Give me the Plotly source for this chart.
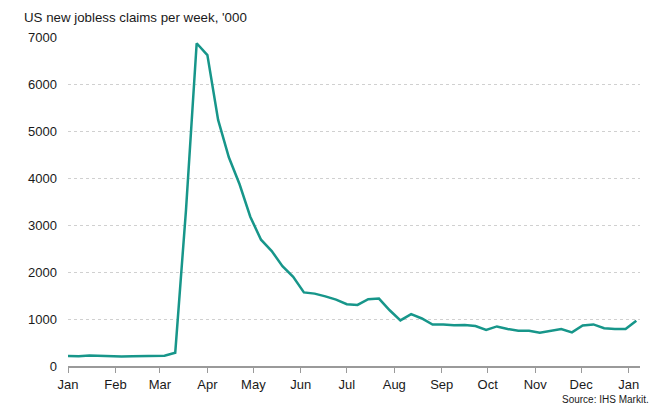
import pandas as pd
import plotly.graph_objects as go

# Weekly US new jobless claims, thousands (54 weeks, Jan 2020 - Jan 2021)
week_start = "2020-01-01"
n_weeks = 54
claims = [212, 207, 223, 217, 202, 204, 206, 211, 220, 217,
          282, 3307, 6867, 6615, 5237, 4442, 3867, 3176, 2687, 2446,
          2123, 1897, 1566, 1540, 1482, 1413, 1314, 1300, 1422, 1435,
          1186, 971, 1104, 1011, 881, 884, 866, 873, 849, 767,
          842, 787, 751, 751, 709, 748, 787, 716, 862, 885,
          803, 787, 787, 965]
y_ticks = [0, 1000, 2000, 3000, 4000, 5000, 6000, 7000]
month_ticks = pd.date_range("2020-01-01", "2021-01-01", freq="MS")
month_labels = [d.strftime("%b") for d in month_ticks]

weeks = pd.date_range(week_start, periods=n_weeks, freq="7D")

fig = go.Figure()
fig.add_trace(go.Scatter(x=weeks, y=claims, mode="lines",
                         line=dict(color="#17968a", width=2.5),
                         hoverinfo="x+y"))

FONT = "Liberation Sans, Arial, sans-serif"
fig.update_layout(
    width=660, height=405,
    margin=dict(l=68, r=20, t=37, b=39),
    paper_bgcolor="white", plot_bgcolor="white",
    showlegend=False,
    font=dict(family=FONT, size=13, color="#1a1a1a"),
    xaxis=dict(
        type="date",
        range=["2020-01-01", "2021-01-08 10:00"],
        tickvals=month_ticks, ticktext=month_labels,
        showgrid=False, zeroline=False,
        showline=True, linecolor="#9a9a9a", linewidth=2,
        ticks="outside", ticklen=5, tickcolor="#9a9a9a", tickwidth=1,
        tickfont=dict(family=FONT, size=13, color="#1a1a1a"),
    ),
    yaxis=dict(
        range=[0, 7000],
        tickvals=y_ticks,
        showgrid=True, gridcolor="#d0d0d0", griddash="3px,3px", gridwidth=1,
        zeroline=False, showline=False, ticks="",
        ticklabelstandoff=10,
        tickfont=dict(family=FONT, size=13, color="#1a1a1a"),
    ),
    annotations=[
        dict(text="US new jobless claims per week, '000", xref="paper", yref="paper",
             x=(22 - 68) / 572, y=1 + 20/329, xanchor="left", yanchor="middle",
             showarrow=False, font=dict(family=FONT, size=13.3, color="#1a1a1a")),
        dict(text="Source: IHS Markit.", xref="paper", yref="paper",
             x=1 + 11/572, y=-33/329, xanchor="right", yanchor="middle",
             showarrow=False, font=dict(family=FONT, size=10, color="#1a1a1a")),
    ],
)

fig.write_html("out.html")
